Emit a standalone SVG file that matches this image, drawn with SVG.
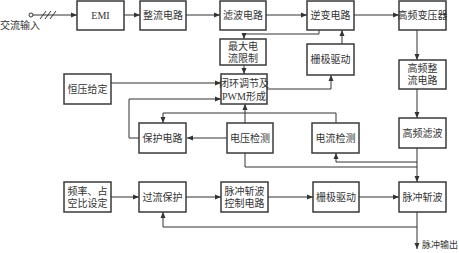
<svg xmlns="http://www.w3.org/2000/svg" width="459" height="253" viewBox="0 0 459 253">
<style>
.b{fill:#fff;stroke:#3a3a3a;stroke-width:1.5}
.t{font-family:"Liberation Serif","Noto Sans CJK SC",serif;font-size:10px;fill:#333;text-anchor:middle}
.c{fill:none;stroke:#333;stroke-width:1}
.a{marker-end:url(#ar)}
</style>
<defs>
<marker id="ar" markerWidth="6" markerHeight="6" refX="6" refY="3" orient="auto" markerUnits="userSpaceOnUse">
<path d="M0,0.5 L6,3 L0,5.5 z" fill="#333"/>
</marker>
</defs>
<rect width="459" height="253" fill="#fff"/>
<g id="connectors">
<circle cx="31" cy="15" r="2" fill="#fff" stroke="#333"/>
<path class="c a" d="M33,15 H77"/>
<path class="c" d="M40,19 L46,11 M45,19 L51,11 M50,19 L56,11"/>
<path class="c a" d="M124,15 H140"/>
<path class="c a" d="M186,15 H220"/>
<path class="c a" d="M266,15 H307"/>
<path class="c a" d="M354,15 H399"/>
<path class="c a" d="M417,30 V60"/>
<path class="c a" d="M417,89 V118"/>
<path class="c a" d="M417,148 V182"/>
<path class="c a" d="M417,212 V249"/>
<path class="c a" d="M319,30 V34 H244 V39"/>
<path class="c a" d="M342,44 V30"/>
<path class="c a" d="M244,65 V74"/>
<path class="c a" d="M111,83 H221"/>
<path class="c a" d="M267,89 H331 V75"/>
<path class="c a" d="M139,138 H129 V99 H221"/>
<path class="c a" d="M245,123 V104"/>
<path class="c a" d="M336,123 V113 H163 V123"/>
<path class="c a" d="M227,138 H187"/>
<path class="c" d="M245,153 V167 H417"/>
<path class="c a" d="M417,162 H336 V153"/>
<path class="c a" d="M111,197 H139"/>
<path class="c a" d="M186,197 H221"/>
<path class="c a" d="M268,197 H313"/>
<path class="c a" d="M359,197 H399"/>
<path class="c a" d="M417,227 H163 V212"/>
</g>
<text class="t" x="20" y="29">交流输入</text>
<text class="t" x="422" y="248" style="text-anchor:start;font-size:9px">脉冲输出</text>
<g id="emi"><rect class="b" x="77" y="1" width="47" height="29"/><text class="t" x="100.5" y="19">EMI</text></g>
<g id="zhengliu"><rect class="b" x="140" y="1" width="46" height="29"/><text class="t" x="163" y="19">整流电路</text></g>
<g id="lvbo"><rect class="b" x="220" y="1" width="46" height="29"/><text class="t" x="243" y="19">滤波电路</text></g>
<g id="nibian"><rect class="b" x="307" y="1" width="47" height="29"/><text class="t" x="330.5" y="19">逆变电路</text></g>
<g id="bianyaqi"><rect class="b" x="399" y="1" width="47" height="29"/><text class="t" x="422.5" y="19">高频变压器</text></g>
<g id="zuidadianliu"><rect class="b" x="220" y="39" width="46" height="26"/><text class="t" x="243" y="50">最大电</text><text class="t" x="243" y="62">流限制</text></g>
<g id="shanji1"><rect class="b" x="307" y="44" width="47" height="31"/><text class="t" x="330.5" y="63">栅极驱动</text></g>
<g id="gaopinzhengliu"><rect class="b" x="399" y="60" width="47" height="29"/><text class="t" x="422.5" y="72">高频整</text><text class="t" x="422.5" y="84">流电路</text></g>
<g id="hengya"><rect class="b" x="64" y="74" width="47" height="30"/><text class="t" x="87.5" y="93">恒压给定</text></g>
<g id="bihuan"><rect class="b" x="221" y="74" width="46" height="30"/><text class="t" x="244" y="87">闭环调节及</text><text class="t" x="244" y="100">PWM形成</text></g>
<g id="gaopinlvbo"><rect class="b" x="399" y="118" width="47" height="30"/><text class="t" x="422.5" y="137">高频滤波</text></g>
<g id="baohu"><rect class="b" x="139" y="123" width="47" height="30"/><text class="t" x="162.5" y="142">保护电路</text></g>
<g id="dianya"><rect class="b" x="227" y="123" width="46" height="30"/><text class="t" x="250" y="142">电压检测</text></g>
<g id="dianliu"><rect class="b" x="312" y="123" width="47" height="30"/><text class="t" x="335.5" y="142">电流检测</text></g>
<g id="pinlv"><rect class="b" x="64" y="182" width="47" height="30"/><text class="t" x="87.5" y="195">频率、占</text><text class="t" x="87.5" y="207">空比设定</text></g>
<g id="guoliu"><rect class="b" x="139" y="182" width="47" height="30"/><text class="t" x="162.5" y="201">过流保护</text></g>
<g id="kongzhi"><rect class="b" x="221" y="182" width="47" height="30"/><text class="t" x="244.5" y="195">脉冲斩波</text><text class="t" x="244.5" y="207">控制电路</text></g>
<g id="shanji2"><rect class="b" x="313" y="182" width="46" height="30"/><text class="t" x="336" y="201">栅极驱动</text></g>
<g id="zhanbo"><rect class="b" x="399" y="182" width="47" height="30"/><text class="t" x="422.5" y="201">脉冲斩波</text></g>
</svg>
